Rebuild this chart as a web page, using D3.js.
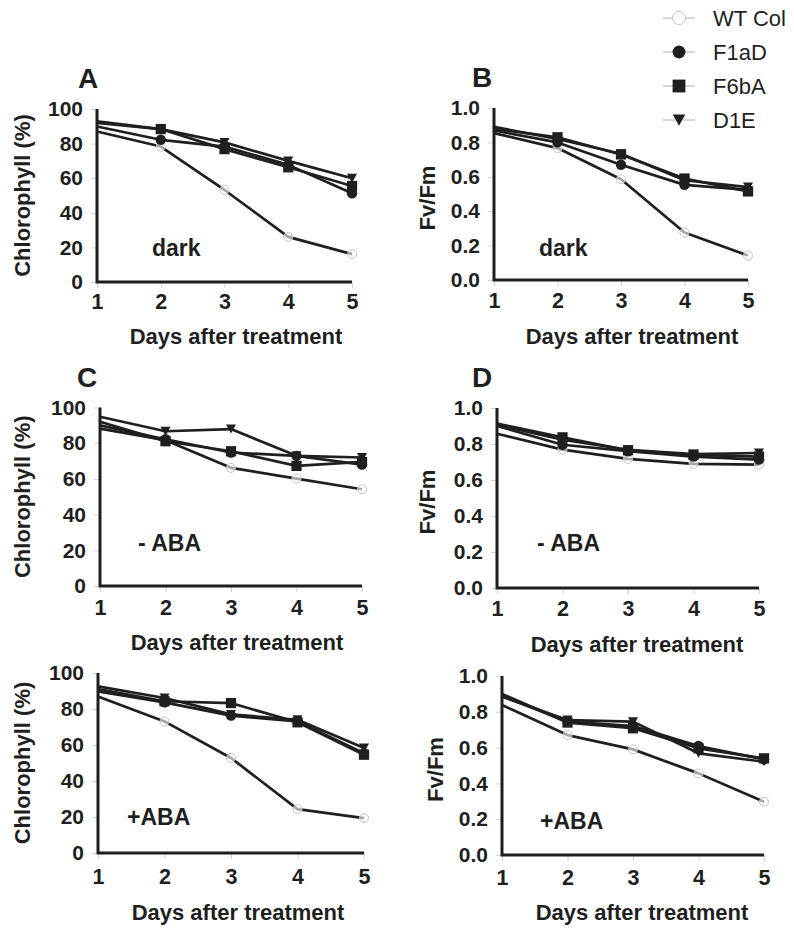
<!DOCTYPE html>
<html>
<head>
<meta charset="utf-8">
<script src="https://cdn.jsdelivr.net/npm/d3@7/dist/d3.min.js"></script>
<style>
  html, body { margin: 0; padding: 0; background: #fff; }
  svg { display: block; font-family: "Liberation Sans", Arial, Helvetica, sans-serif; }
</style>
</head>
<body>
<svg id="chart" width="794" height="933"></svg>
<script>
// ---------- DATA ----------
const days = [1, 2, 3, 4, 5];
const seriesNames = ["WT Col", "F1aD", "F6bA", "D1E"];
const chlTicks = [0, 20, 40, 60, 80, 100];
const fvTicks = [0.0, 0.2, 0.4, 0.6, 0.8, 1.0];
const panelLetters = ["A", "B", "C", "D", "", ""];
const conditions = ["dark", "dark", "- ABA", "- ABA", "+ABA", "+ABA"];
const xTitle = "Days after treatment";
const chlTitle = "Chlorophyll (%)";
const fvTitle = "Fv/Fm";

// rows: WT Col, F1aD, F6bA, D1E
const chlDark = [
  [87, 78.3, 53.2, 26.1, 16.1],
  [89.9, 82.2, 78.3, 67.7, 51.3],
  [91.9, 88.4, 76.8, 66.3, 55.5],
  [92.8, 88.4, 80.7, 70, 60]
];
const fvDark = [
  [0.854, 0.767, 0.586, 0.276, 0.142],
  [0.87, 0.80, 0.67, 0.553, 0.524],
  [0.88, 0.83, 0.73, 0.59, 0.515],
  [0.89, 0.82, 0.734, 0.58, 0.54]
];
const chlMinusABA = [
  [88.2, 81.7, 66.2, 60.2, 54.2],
  [90, 82.2, 74.8, 72.9, 68],
  [92, 81.1, 75.5, 67.3, 69.5],
  [94.8, 86.7, 87.9, 72.9, 72]
];
const fvMinusABA = [
  [0.857, 0.769, 0.717, 0.69, 0.685],
  [0.90, 0.796, 0.76, 0.73, 0.713],
  [0.913, 0.837, 0.765, 0.74, 0.73],
  [0.907, 0.824, 0.768, 0.744, 0.75]
];
const chlPlusABA = [
  [87, 73.1, 52.8, 24.4, 19.4],
  [89.8, 83.7, 76.3, 73.1, 55.5],
  [91.1, 84.3, 83.3, 72.6, 54.6],
  [92.6, 86.1, 77, 74, 58.3]
];
const fvPlusABA = [
  [0.838, 0.67, 0.59, 0.456, 0.298],
  [0.888, 0.745, 0.72, 0.609, 0.534],
  [0.90, 0.74, 0.708, 0.596, 0.54],
  [0.885, 0.754, 0.745, 0.568, 0.521]
];

// ---------- LAYOUT ----------
const FONT = '"Liberation Sans", Arial, Helvetica, sans-serif';
const ink = "#1f1f1f";
const panels = [
  { data: chlDark,     kind: "chl", x0: 97,  x1: 352, yTop: 109, yBot: 282, xPad: 6,  letterX: 78,  letterY: 88,  condX: 152, condY: 256, titleX: 236, titleY: 344, ytX: 30 },
  { data: fvDark,      kind: "fv",  x0: 494, x1: 748, yTop: 108, yBot: 280, xPad: 7,  letterX: 472, letterY: 87,  condX: 539, condY: 256, titleX: 632, titleY: 344, ytX: 435 },
  { data: chlMinusABA, kind: "chl", x0: 100, x1: 362, yTop: 407.5, yBot: 586, xPad: 8, letterX: 77, letterY: 387, condX: 138, condY: 551, titleX: 237, titleY: 650, ytX: 30 },
  { data: fvMinusABA,  kind: "fv",  x0: 497, x1: 759, yTop: 408, yBot: 588, xPad: 7,  letterX: 472, letterY: 387, condX: 537, condY: 551, titleX: 637, titleY: 652, ytX: 435 },
  { data: chlPlusABA,  kind: "chl", x0: 98,  x1: 364, yTop: 673, yBot: 853, xPad: 10, letterX: 0,  letterY: 0,   condX: 127, condY: 825, titleX: 238, titleY: 920, ytX: 30 },
  { data: fvPlusABA,   kind: "fv",  x0: 502, x1: 764, yTop: 676, yBot: 855, xPad: 9,  letterX: 0,  letterY: 0,   condX: 540, condY: 829, titleX: 642, titleY: 920, ytX: 443 }
];

const svg = d3.select("#chart");

const triDown = size => {
  const p = d3.path();
  const h = size * 0.9, w = size;
  p.moveTo(-w / 2, -h / 2); p.lineTo(w / 2, -h / 2); p.lineTo(0, h / 2); p.closePath();
  return p.toString();
};

function drawMarker(g, s, x, y, scale) {
  const k = scale || 1;
  if (s === 0) {
    g.append("circle").attr("cx", x).attr("cy", y).attr("r", 4.5 * k)
      .attr("fill", "#fff").attr("fill-opacity", 0.6).attr("stroke", "#c4c4c4").attr("stroke-width", 1);
  } else if (s === 1) {
    g.append("path").attr("transform", `translate(${x},${y})`)
      .attr("d", d3.symbol().type(d3.symbolCircle).size(85 * k * k)()).attr("fill", ink);
  } else if (s === 2) {
    g.append("path").attr("transform", `translate(${x},${y})`)
      .attr("d", d3.symbol().type(d3.symbolSquare).size(105 * k * k)()).attr("fill", ink);
  } else {
    g.append("path").attr("transform", `translate(${x},${y})`)
      .attr("d", triDown(10 * k)).attr("fill", ink);
  }
}

panels.forEach((p, i) => {
  const g = svg.append("g");
  const x = d3.scaleLinear().domain([1, 5]).range([p.x0, p.x1]);
  const y = p.kind === "chl"
    ? d3.scaleLinear().domain([0, 100]).range([p.yBot, p.yTop])
    : d3.scaleLinear().domain([0, 1]).range([p.yBot, p.yTop]);
  const ticks = p.kind === "chl" ? chlTicks : fvTicks;
  const fmt = p.kind === "chl" ? d3.format("d") : d3.format(".1f");

  // Y axis (faint ticks, thick line)
  const yAxis = d3.axisLeft(y).tickValues(ticks).tickFormat(fmt).tickSize(6).tickPadding(8);
  const ya = g.append("g").attr("transform", `translate(${p.x0},0)`).call(yAxis);
  ya.select(".domain").remove();
  ya.selectAll(".tick line").attr("stroke", "#d2d2d2").attr("stroke-width", 1);
  ya.selectAll(".tick text").attr("fill", ink).attr("font-family", FONT)
    .attr("font-size", 21).attr("font-weight", "bold");

  // X axis
  const xAxis = d3.axisBottom(x).tickValues(days).tickFormat(d3.format("d")).tickSize(6).tickPadding(p.xPad);
  const xa = g.append("g").attr("transform", `translate(0,${p.yBot})`).call(xAxis);
  xa.select(".domain").remove();
  xa.selectAll(".tick line").attr("stroke", "#d2d2d2").attr("stroke-width", 1);
  xa.selectAll(".tick text").attr("fill", ink).attr("font-family", FONT)
    .attr("font-size", 21.5).attr("font-weight", "bold");

  // thick axis lines
  g.append("path")
    .attr("d", `M${p.x0},${y.range()[1]}V${p.yBot}H${p.x1}`)
    .attr("fill", "none").attr("stroke", ink).attr("stroke-width", 3);

  // series lines
  const line = d3.line().x((d, j) => x(days[j])).y(d => y(d));
  p.data.forEach((vals) => {
    g.append("path").datum(vals).attr("d", line)
      .attr("fill", "none").attr("stroke", ink).attr("stroke-width", 2.7)
      .attr("stroke-linejoin", "round");
  });
  // markers (day-1 markers are hidden behind the axis in the original)
  p.data.forEach((vals, s) => {
    vals.forEach((v, j) => { if (j > 0) drawMarker(g, s, x(days[j]), y(v)); });
  });

  // panel letter
  if (panelLetters[i]) {
    g.append("text").attr("x", p.letterX).attr("y", p.letterY).text(panelLetters[i])
      .attr("font-family", FONT).attr("font-size", 28).attr("font-weight", "bold").attr("fill", ink);
  }
  // condition label
  g.append("text").attr("x", p.condX).attr("y", p.condY).text(conditions[i])
    .attr("font-family", FONT).attr("font-size", 23).attr("font-weight", "bold").attr("fill", ink);
  // x title
  g.append("text").attr("x", p.titleX).attr("y", p.titleY).attr("text-anchor", "middle").text(xTitle)
    .attr("font-family", FONT).attr("font-size", 22).attr("font-weight", "bold").attr("fill", ink);
  // y title
  const yMid = (p.yTop + p.yBot) / 2 + (p.kind === "chl" ? 0 : 4);
  g.append("text").attr("transform", `translate(${p.ytX},${yMid}) rotate(-90)`)
    .attr("text-anchor", "middle").text(p.kind === "chl" ? chlTitle : fvTitle)
    .attr("font-family", FONT).attr("font-size", 22).attr("font-weight", "bold").attr("fill", ink);
});

// ---------- LEGEND ----------
const legend = svg.append("g");
const legendY = d3.scalePoint().domain(seriesNames).range([18, 120]);
seriesNames.forEach((name, s) => {
  const yy = legendY(name);
  legend.append("line").attr("x1", 663).attr("x2", 695).attr("y1", yy).attr("y2", yy)
    .attr("stroke", "#b0b0b0").attr("stroke-width", 1);
  if (s === 0) {
    legend.append("circle").attr("cx", 679).attr("cy", yy).attr("r", 6.5)
      .attr("fill", "#fff").attr("stroke", "#c4c4c4").attr("stroke-width", 1);
  } else {
    drawMarker(legend, s, 679, yy, 1.25);
  }
  legend.append("text").attr("x", 713).attr("y", yy).attr("dy", "0.36em").text(name)
    .attr("font-family", FONT).attr("font-size", 22).attr("fill", ink);
});
</script>
</body>
</html>
